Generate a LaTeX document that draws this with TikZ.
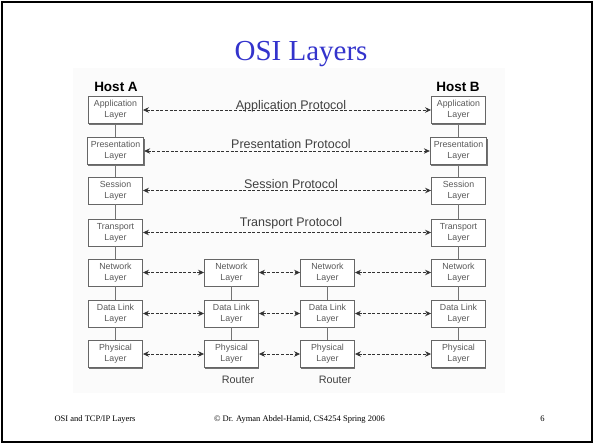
\documentclass[tikz,border=0pt]{standalone}
\usepackage{fontspec}
\setmainfont{Liberation Serif}
\newfontfamily\arial{Liberation Sans}
\usetikzlibrary{arrows.meta,shadows}
\definecolor{titleblue}{RGB}{51,51,204}
\begin{document}
\begin{tikzpicture}[x=1pt,y=-1pt,
  layer/.style={draw=black!60, line width=0.9pt, fill=white,
    minimum width=54pt, minimum height=27pt, inner xsep=3.5pt, inner ysep=1pt,
    align=center, font=\arial\fontsize{8.8}{10.8}\selectfont, text=black!65,
    drop shadow={shadow xshift=0.9pt, shadow yshift=-1pt, opacity=1, fill=black!55}},
  proto/.style={draw=black!80, line width=0.8pt, dash pattern=on 3pt off 1.6pt,
    {Stealth[length=6pt,width=5.5pt,inset=2pt]}-{Stealth[length=6pt,width=5.5pt,inset=2pt]}},
  vline/.style={draw=black!55, line width=0.9pt},
  plabel/.style={font=\arial\fontsize{12.5}{14}\selectfont, text=black!75, anchor=base},
  hostlabel/.style={font=\arial\bfseries\fontsize{13.5}{15}\selectfont, anchor=base},
  rlabel/.style={font=\arial\fontsize{10.8}{12}\selectfont, text=black!75, anchor=base},
  foot/.style={font=\fontsize{8.5}{10}\selectfont, anchor=base}
]
\useasboundingbox (0,0) rectangle (594,444);
\fill[white] (0,0) rectangle (594,444);
\draw[line width=2pt] (2,2) rectangle (592,442);
\fill[black!1.5] (73,68) rectangle (505,393);

\node[font=\fontsize{29}{32}\selectfont, text=titleblue, anchor=base] (title) at (301,61) {OSI Layers};

\node[hostlabel] (hostA) at (116,92) {Host A};
\node[hostlabel] (hostB) at (458,92) {Host B};

% Host A column
\node[layer] (a1) at (115.5,110)   {Application\\Layer};
\node[layer] (a2) at (115.5,151)   {Presentation\\Layer};
\node[layer] (a3) at (115.5,190.5) {Session\\Layer};
\node[layer] (a4) at (115.5,232.5) {Transport\\Layer};
\node[layer] (a5) at (115.5,272.5) {Network\\Layer};
\node[layer] (a6) at (115.5,313.5) {Data Link\\Layer};
\node[layer] (a7) at (115.5,354)   {Physical\\Layer};
% Host B column
\node[layer] (b1) at (458.5,110)   {Application\\Layer};
\node[layer] (b2) at (458.5,151)   {Presentation\\Layer};
\node[layer] (b3) at (458.5,190.5) {Session\\Layer};
\node[layer] (b4) at (458.5,232.5) {Transport\\Layer};
\node[layer] (b5) at (458.5,272.5) {Network\\Layer};
\node[layer] (b6) at (458.5,313.5) {Data Link\\Layer};
\node[layer] (b7) at (458.5,354)   {Physical\\Layer};
% Routers
\node[layer] (r1n) at (231.5,272.5) {Network\\Layer};
\node[layer] (r1d) at (231.5,313.5) {Data Link\\Layer};
\node[layer] (r1p) at (231.5,354)   {Physical\\Layer};
\node[layer] (r2n) at (327.5,272.5) {Network\\Layer};
\node[layer] (r2d) at (327.5,313.5) {Data Link\\Layer};
\node[layer] (r2p) at (327.5,354)   {Physical\\Layer};

\node[rlabel] (rt1) at (238,383) {Router};
\node[rlabel] (rt2) at (335,383) {Router};

% vertical links
\draw[vline] (a1) -- (a2) (a2) -- (a3) (a3) -- (a4) (a4) -- (a5) (a5) -- (a6) (a6) -- (a7);
\draw[vline] (b1) -- (b2) (b2) -- (b3) (b3) -- (b4) (b4) -- (b5) (b5) -- (b6) (b6) -- (b7);
\draw[vline] (r1n) -- (r1d) (r1d) -- (r1p);
\draw[vline] (r2n) -- (r2d) (r2d) -- (r2p);

% protocol arrows
\draw[proto] (a1) -- (b1);
\draw[proto] (a2) -- (b2);
\draw[proto] (a3) -- (b3);
\draw[proto] (a4) -- (b4);
\foreach \r in {5,6,7}{
  \ifnum\r=5 \def\s{n}\fi
  \ifnum\r=6 \def\s{d}\fi
  \ifnum\r=7 \def\s{p}\fi
  \draw[proto] (a\r) -- (r1\s);
  \draw[proto] (r1\s) -- (r2\s);
  \draw[proto] (r2\s) -- (b\r);
}

\node[plabel] (l1) at (291,109.5) {Application Protocol};
\node[plabel] (l2) at (291,148.5) {Presentation Protocol};
\node[plabel] (l3) at (291,188) {Session Protocol};
\node[plabel] (l4) at (291,226.5) {Transport Protocol};

% footer
\node[foot, anchor=base west] (f1) at (51,421) {OSI and TCP/IP Layers};
\node[foot] (f2) at (299.5,421) {© Dr. Ayman Abdel-Hamid, CS4254 Spring 2006};
\node[foot] (f3) at (542.5,421) {6};
\end{tikzpicture}
\end{document}
